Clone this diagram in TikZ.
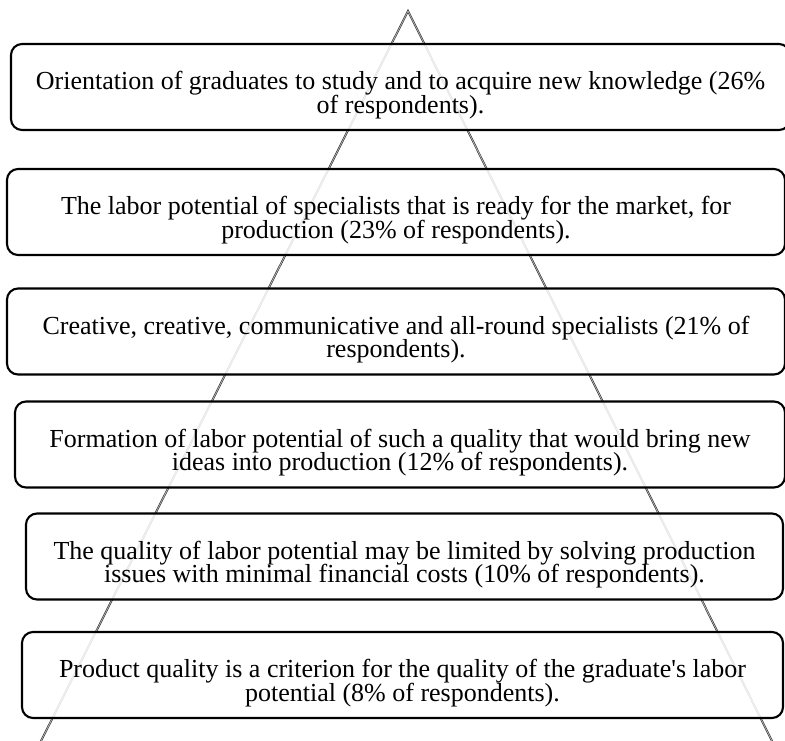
\documentclass[tikz,border=0pt]{standalone}
\usepackage{fontspec}
\setmainfont{Liberation Serif}
\lineskiplimit=-20pt
\tikzset{
    base/.style={text centered, font=\fontsize{26}{23.5}\selectfont},
    tier/.style={rectangle, rounded corners=11pt, draw=black, line width=2.1pt, fill=white, fill opacity=0.85, minimum height=86pt, inner sep=0pt},
    tiertext/.style={base, align=center, inner sep=0pt, yshift=-8pt},
    apex/.style={draw=black!85, line width=0.55pt, double=black!30, double distance=0.8pt}
}

\begin{document}
\begin{tikzpicture}[x=1pt, y=-1pt]
        \useasboundingbox (0,0) rectangle (785,740);

        % Pyramid
        \coordinate (top) at (408,11);
        \coordinate (bl) at (39,745);
        \coordinate (br) at (774,745);
        \draw [apex] (top) -- (bl) -- (br) -- cycle;

        % Tiers
        \node (b1) [tier, minimum width=779pt] at (400.5,87) {};
        \node (t1) [tiertext] at (b1.center) {Orientation of graduates to study and to acquire new knowledge (26\%\\of respondents).};

        \node (b2) [tier, minimum width=778pt] at (396,212) {};
        \node (t2) [tiertext] at (b2.center) {The labor potential of specialists that is ready for the market, for\\production (23\% of respondents).};

        \node (b3) [tier, minimum width=778pt] at (396,331.5) {};
        \node (t3) [tiertext] at (b3.center) {Creative, creative, communicative and all-round specialists (21\% of\\respondents).};

        \node (b4) [tier, minimum width=770pt] at (400,444.5) {};
        \node (t4) [tiertext] at (b4.center) {Formation of labor potential of such a quality that would bring new\\ideas into production (12\% of respondents).};

        \node (b5) [tier, minimum width=757pt] at (404.5,556.5) {};
        \node (t5) [tiertext] at (b5.center) {The quality of labor potential may be limited by solving production\\issues with minimal financial costs (10\% of respondents).};

        \node (b6) [tier, minimum width=761pt] at (402.5,675) {};
        \node (t6) [tiertext] at (b6.center) {Product quality is a criterion for the quality of the graduate\textquotesingle s labor\\potential (8\% of respondents).};
\end{tikzpicture}
\end{document}
